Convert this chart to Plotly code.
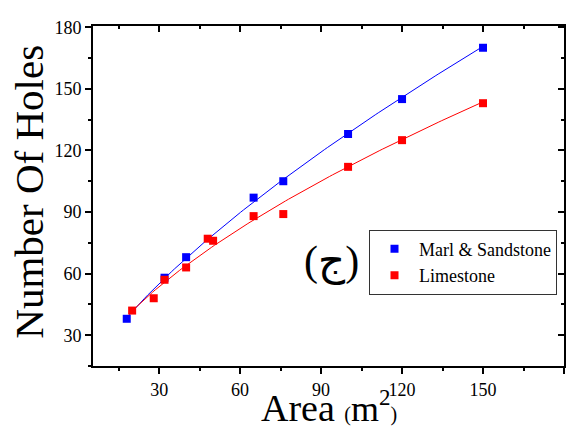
import numpy as np
import plotly.graph_objects as go

# ---- data ----
marl_area = [18, 32, 40, 65, 76, 100, 120, 150]
marl_holes = [38, 58, 68, 97, 105, 128, 145, 170]

lime_area = [20, 28, 32, 40, 48, 50, 65, 76, 100, 120, 150]
lime_holes = [42, 48, 57, 63, 77, 76, 88, 89, 112, 125, 143]

x_ticks = [30, 60, 90, 120, 150, 180]
y_ticks = [30, 60, 90, 120, 150, 180]

BLUE = "#0000FF"
RED = "#FF0000"
SERIF = "Liberation Serif, Times New Roman, serif"


def power_fit(x, y):
    x = np.asarray(x, float)
    y = np.asarray(y, float)
    b, ln_a = np.polyfit(np.log(x), np.log(y), 1)
    xs = np.linspace(x.min(), x.max(), 120)
    return xs, np.exp(ln_a) * xs ** b


fig = go.Figure()

bx, by = power_fit(marl_area, marl_holes)
rx, ry = power_fit(lime_area, lime_holes)

fig.add_trace(go.Scatter(x=bx, y=by, mode="lines", line=dict(color=BLUE, width=1),
                         showlegend=False, hoverinfo="skip"))
fig.add_trace(go.Scatter(x=rx, y=ry, mode="lines", line=dict(color=RED, width=1),
                         showlegend=False, hoverinfo="skip"))
fig.add_trace(go.Scatter(x=marl_area, y=marl_holes, mode="markers", name="Marl & Sandstone",
                         marker=dict(symbol="square", size=8, color=BLUE, line=dict(width=0))))
fig.add_trace(go.Scatter(x=lime_area, y=lime_holes, mode="markers", name="Limestone",
                         marker=dict(symbol="square", size=8, color=RED, line=dict(width=0))))

# empty trace to drive the mirrored (top/right) axes
fig.add_trace(go.Scatter(x=[], y=[], xaxis="x2", yaxis="y2", showlegend=False))

XR = [5.5, 180]
YR = [15, 180.6]

axis_common = dict(showgrid=False, zeroline=False, showline=True, linecolor="black",
                   linewidth=2, tickcolor="black", tickwidth=1.5)
minor_out = dict(ticks="outside", ticklen=3, dtick=15, tick0=0, tickcolor="black", tickwidth=1.5)
minor_in = dict(ticks="inside", ticklen=3, dtick=15, tick0=0, tickcolor="black", tickwidth=1.5)

fig.update_layout(
    width=569, height=418,
    margin=dict(l=85, r=13, t=10, b=60),
    paper_bgcolor="white", plot_bgcolor="white",
    font=dict(family=SERIF, color="black", size=18),
    xaxis=dict(range=XR, tickvals=x_ticks, ticks="outside", ticklen=6, minor=minor_out,
               tickfont=dict(family=SERIF, size=18, color="black"), **axis_common),
    yaxis=dict(range=YR, tickvals=y_ticks, ticks="outside", ticklen=6, minor=minor_out,
               tickfont=dict(family=SERIF, size=18, color="black"), **axis_common),
    xaxis2=dict(range=XR, overlaying="x", side="top", anchor="y", tickvals=x_ticks,
                ticks="inside", ticklen=6, showticklabels=False, minor=minor_in, **axis_common),
    yaxis2=dict(range=YR, overlaying="y", side="right", anchor="x", tickvals=y_ticks,
                ticks="inside", ticklen=6, showticklabels=False, minor=minor_in, **axis_common),
    legend=dict(x=0.586, y=0.401, xanchor="left", yanchor="top",
                bgcolor="white", bordercolor="#333333", borderwidth=1,
                font=dict(family=SERIF, size=18, color="black"),
                itemwidth=39, tracegroupgap=0),
    showlegend=True,
    annotations=[
        dict(text="Area <span style='font-size:20px'>(</span><span style='font-size:36px'>m</span>"
                  "<sup><span style='font-size:23px'>2</span></sup><span style='font-size:20px'>)</span>",
             xref="paper", yref="paper", x=0.5, y=-0.122, xanchor="center", yanchor="middle",
             showarrow=False, font=dict(family=SERIF, size=38, color="black")),
        dict(text="Number Of Holes", xref="paper", yref="paper", x=-0.135, y=0.514,
             xanchor="center", yanchor="middle", textangle=-90, showarrow=False,
             font=dict(family=SERIF, size=41, color="black")),
        dict(text="(ج)", xref="paper", yref="paper", x=0.507, y=0.307,
             xanchor="center", yanchor="middle", showarrow=False,
             font=dict(family="Liberation Serif, DejaVu Sans", size=42, color="black")),
    ],
)

fig.write_html("out.html")
